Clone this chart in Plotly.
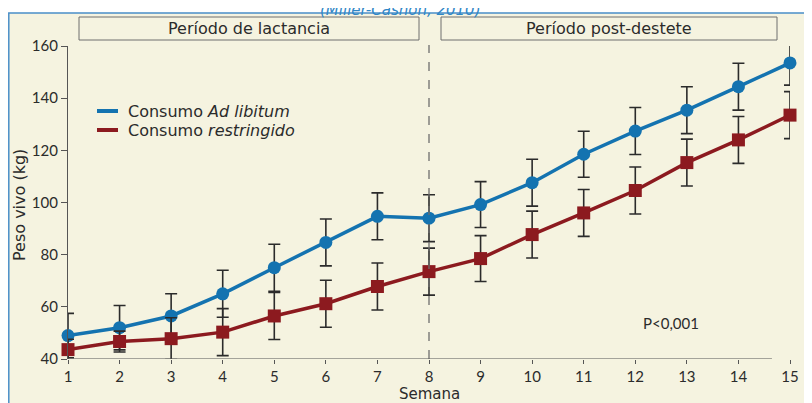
import plotly.graph_objects as go

weeks = list(range(1, 16))
ad_libitum = [49.0, 52.0, 56.5, 65.0, 75.0, 84.7, 94.7, 94.0, 99.2, 107.6, 118.5, 127.4, 135.4, 144.4, 153.5]
ad_libitum_err = [8.5, 8.5, 8.5, 9.0, 9.0, 9.0, 9.0, 9.0, 8.8, 9.0, 8.8, 9.0, 9.0, 9.0, 8.5]
restringido = [43.6, 46.7, 47.8, 50.3, 56.5, 61.2, 67.8, 73.5, 78.5, 87.7, 96.0, 104.6, 115.3, 124.0, 133.5]
restringido_err = [4.0, 4.0, 8.0, 9.0, 9.0, 9.0, 9.0, 9.0, 8.8, 9.0, 9.0, 9.0, 9.0, 9.0, 9.0]
y_ticks = [40, 60, 80, 100, 120, 140, 160]
periods = ["Período de lactancia", "Período post-destete"]
legend_names = ["Consumo <i>Ad libitum</i>", "Consumo <i>restringido</i>"]

BLUE = "#1473B0"
RED = "#8C1A1F"
BG = "#F5F3E0"
INK = "#2B2B2B"
TXT = "DejaVu Sans"
NUM = "Lato"

fig = go.Figure()
fig.add_trace(go.Scatter(
    x=weeks, y=ad_libitum, mode="lines+markers", name="Ad libitum",
    line=dict(color=BLUE, width=3.5),
    marker=dict(symbol="circle", size=13, color=BLUE),
    error_y=dict(type="data", array=ad_libitum_err, color=INK, thickness=1.6, width=6),
    cliponaxis=False, showlegend=False,
))
fig.add_trace(go.Scatter(
    x=weeks, y=restringido, mode="lines+markers", name="restringido",
    line=dict(color=RED, width=3.5),
    marker=dict(symbol="square", size=13, color=RED),
    error_y=dict(type="data", array=restringido_err, color=INK, thickness=1.6, width=6),
    cliponaxis=False, showlegend=False,
))

# page pixel geometry (the page body adds an 8px offset)
OFF = 8
W, H = 812 - OFF, 403 - OFF
PL, PR, PT, PB = 68, 790, 46, 359  # plot area in page pixels
L, R, T, B = PL - OFF, (W + OFF) - PR, PT - OFF, (H + OFF) - PB
pw, ph = PR - PL, PB - PT

def px_x(p):
    return (p - PL) / pw

def px_y(p):
    return (PB - p) / ph

shapes = []
annotations = []
# background frame
shapes.append(dict(type="rect", xref="paper", yref="paper", layer="below",
                   x0=px_x(OFF + 0.8), x1=px_x(W + OFF + 5), y0=px_y(H + OFF + 5), y1=px_y(13),
                   fillcolor=BG, line=dict(color="#4A8FC8", width=1.5)))
# period boxes
box_px = [(79, 419), (441, 777)]
for (a, b), label in zip(box_px, periods):
    shapes.append(dict(type="rect", xref="paper", yref="paper", layer="below",
                       x0=px_x(a), x1=px_x(b), y0=px_y(40), y1=px_y(17),
                       fillcolor=BG, line=dict(color="#6E6E6E", width=1)))
    annotations.append(dict(xref="paper", yref="paper", x=(px_x(a) + px_x(b)) / 2,
                            y=(px_y(40) + px_y(17)) / 2, text=label, showarrow=False,
                            font=dict(family=TXT, size=16, color=INK),
                            xanchor="center", yanchor="middle"))
# dashed separator at week 8
shapes.append(dict(type="line", xref="x", yref="paper", x0=8, x1=8, y0=0, y1=px_y(45),
                   line=dict(color="#6E6E6E", width=1.3, dash="dash")))
# x axis line
shapes.append(dict(type="line", xref="x", yref="y", x0=1, x1=14.65, y0=40, y1=40,
                   line=dict(color="#555555", width=1.2)))
# manual legend
for i, (name, col) in enumerate(zip(legend_names, [BLUE, RED])):
    yy = px_y(111 + 19 * i)
    shapes.append(dict(type="line", xref="paper", yref="paper",
                       x0=px_x(97), x1=px_x(118), y0=yy, y1=yy,
                       line=dict(color=col, width=4)))
    annotations.append(dict(xref="paper", yref="paper", x=px_x(126), y=yy,
                            text=name, showarrow=False, xanchor="left", yanchor="middle",
                            font=dict(family=TXT, size=16, color=INK)))

annotations.append(dict(xref="x", yref="y", x=12.7, y=53.8, text="P<0,001", showarrow=False,
                        font=dict(family=NUM, size=15, color=INK)))
annotations.append(dict(xref="paper", yref="paper", x=px_x(400), y=px_y(OFF + 2),
                        text="<i>(Miller-Cashon, 2010)</i>", showarrow=False,
                        xanchor="center", yanchor="middle",
                        font=dict(family=TXT, size=15, color="#2F86C6")))
# axis titles
annotations.append(dict(xref="paper", yref="paper", x=px_x(19), y=px_y(205),
                        text="Peso vivo (kg)", textangle=-90, showarrow=False,
                        xanchor="center", yanchor="middle",
                        font=dict(family=TXT, size=16, color=INK)))
annotations.append(dict(xref="x", yref="paper", x=8, y=px_y(393.5),
                        text="Semana", showarrow=False,
                        xanchor="center", yanchor="middle",
                        font=dict(family=TXT, size=15, color=INK)))

fig.update_layout(
    width=W, height=H,
    margin=dict(l=L, r=R, t=T, b=B),
    paper_bgcolor="white", plot_bgcolor="rgba(0,0,0,0)",
    font=dict(family=TXT, size=15, color=INK),
    shapes=shapes, annotations=annotations,
    xaxis=dict(range=[1, 15], tickmode="array", tickvals=weeks, ticktext=[str(w) for w in weeks],
               showgrid=False, zeroline=False, showline=False,
               ticks="outside", ticklen=4, tickwidth=1.2, tickcolor="#555555",
               tickfont=dict(family=NUM, size=15, color=INK)),
    yaxis=dict(range=[40, 160], tickmode="array", tickvals=y_ticks,
               showgrid=False, zeroline=False, showline=True, linecolor="#555555", linewidth=1.2,
               ticks="outside", ticklen=6, tickwidth=1.2, tickcolor="#555555",
               tickfont=dict(family=NUM, size=15, color=INK)),
)

fig.write_html("out.html")
